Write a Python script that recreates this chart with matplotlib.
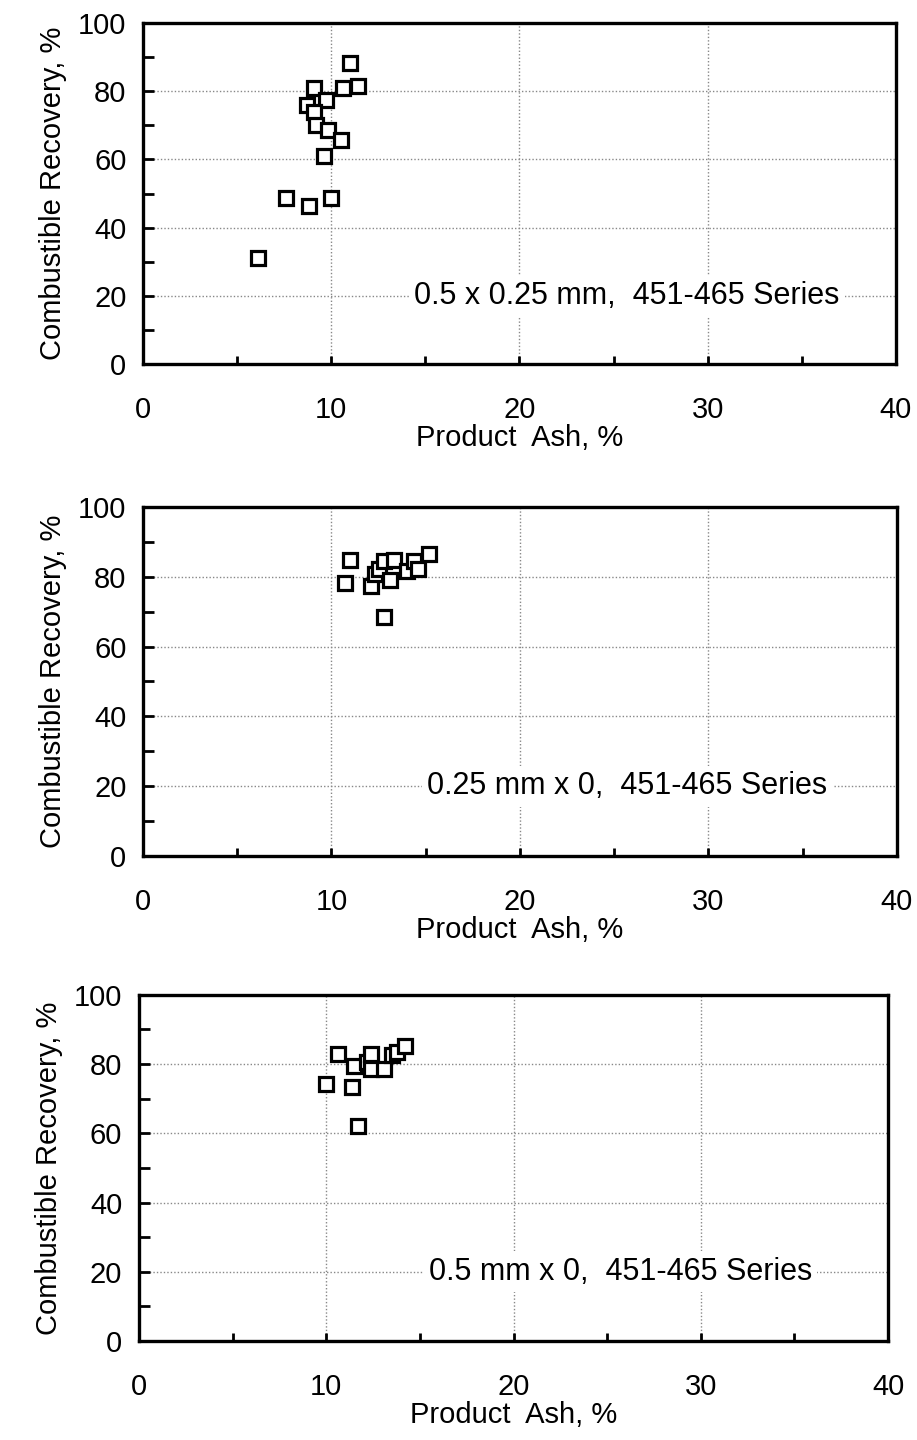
import matplotlib
matplotlib.use("Agg")
import matplotlib.pyplot as plt
from matplotlib.ticker import MultipleLocator

plt.rcParams["font.family"] = ["Liberation Sans", "DejaVu Sans"]

# panel 1: 0.5 x 0.25 mm
ash_1 = [11.0, 9.1, 10.6, 11.4, 9.7, 8.7, 9.1, 9.2, 9.8, 10.5, 9.6, 7.6, 8.8, 10.0, 6.1]
rec_1 = [88.3, 80.9, 80.9, 81.6, 77.3, 76.1, 73.8, 70.2, 68.6, 65.8, 61.1, 48.8, 46.3, 48.8, 31.1]

# panel 2: 0.25 mm x 0
ash_2 = [11.0, 10.7, 12.1, 12.3, 12.5, 12.8, 13.3, 13.1, 12.8, 14.0, 14.4, 14.6, 15.2]
rec_2 = [84.8, 78.1, 77.4, 80.8, 82.2, 84.6, 84.8, 79.1, 68.4, 81.6, 84.6, 82.1, 86.4]

# panel 3: 0.5 mm x 0
ash_3 = [10.0, 10.6, 11.4, 11.5, 11.7, 12.2, 12.4, 12.4, 13.1, 13.5, 13.8, 14.2]
rec_3 = [74.3, 82.9, 73.5, 79.5, 62.1, 80.7, 82.9, 78.5, 78.5, 82.6, 83.6, 85.1]

labels = ["0.5 x 0.25 mm,  451-465 Series",
          "0.25 mm x 0,  451-465 Series",
          "0.5 mm x 0,  451-465 Series"]

# axes boxes in figure fractions (left, bottom, width, height)
boxes = [
    [0.156, 0.7472, 0.821, 0.2368],
    [0.156, 0.4056, 0.822, 0.2424],
    [0.1516, 0.0688, 0.8168, 0.2403],
]

fig = plt.figure(figsize=(9.17, 14.4), dpi=100)

for box, xs, ys, label in zip(boxes, [ash_1, ash_2, ash_3], [rec_1, rec_2, rec_3], labels):
    ax = fig.add_axes(box)
    ax.set_xlim(0, 40)
    ax.set_ylim(0, 100)
    ax.xaxis.set_major_locator(MultipleLocator(10))
    ax.xaxis.set_minor_locator(MultipleLocator(5))
    ax.yaxis.set_major_locator(MultipleLocator(20))
    ax.yaxis.set_minor_locator(MultipleLocator(10))
    ax.grid(True, which="major", color="#888888", linestyle=(0, (1, 1.5)), linewidth=1.0)
    ax.set_axisbelow(True)
    for sp in ax.spines.values():
        sp.set_linewidth(2.4)
        sp.set_color("black")
    ax.tick_params(axis="both", which="both", direction="in", width=2, color="black")
    ax.tick_params(axis="y", which="both", length=8, labelsize=21, pad=12)
    ax.tick_params(axis="x", which="both", length=6, labelsize=21, pad=23)
    ax.tick_params(top=False, right=False)

    ax.plot(xs, ys, linestyle="none", marker="s", markersize=10,
            markerfacecolor="white", markeredgecolor="black", markeredgewidth=2.3, zorder=3)

    ax.text(25.7, 20, label, fontsize=22, ha="center", va="center",
            bbox=dict(facecolor="white", edgecolor="none", pad=4), zorder=2)

    ax.set_xlabel("Product  Ash, %", fontsize=21, labelpad=0)
    ax.set_ylabel("Combustible Recovery, %", fontsize=21, labelpad=8)

fig.savefig("out.png", dpi=100)
